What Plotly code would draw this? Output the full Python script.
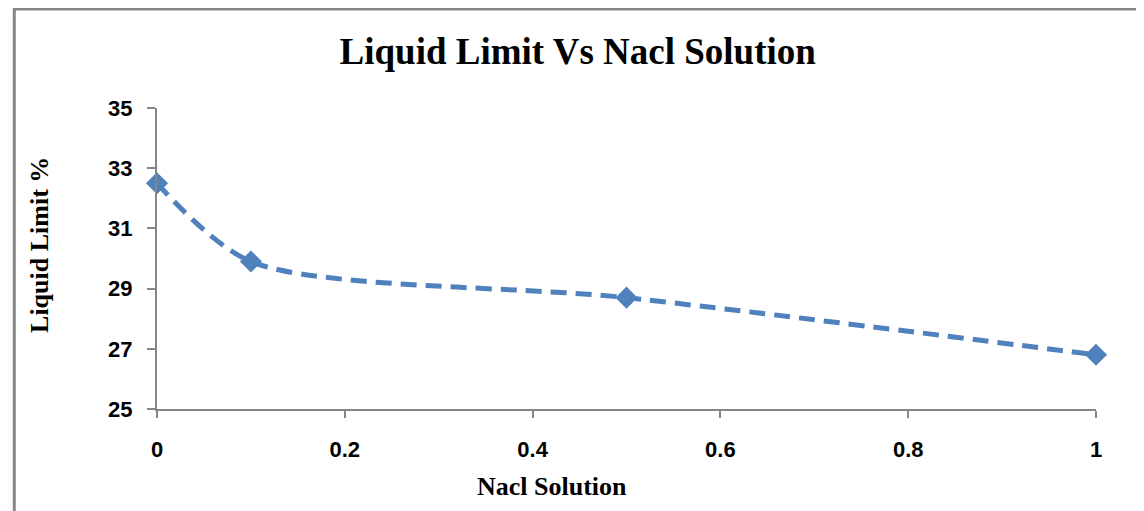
import plotly.graph_objects as go

nacl = [0, 0.1, 0.5, 1]
liquid_limit = [32.5, 29.9, 28.7, 26.8]

x_ticks = [0, 0.2, 0.4, 0.6, 0.8, 1]
y_ticks = [25, 27, 29, 31, 33, 35]

axis_grey = "#868686"
tick_font = dict(family="Liberation Sans Narrow, Arial Narrow, Liberation Sans, Arial",
                 size=22, color="black", weight="bold")
serif = "Liberation Serif, Times New Roman, serif"
title_font = dict(family=serif, size=26, color="black")

fig = go.Figure(go.Scatter(
    x=nacl, y=liquid_limit, mode="lines+markers",
    line=dict(color="#4F81BD", width=5, dash="16px,9px", shape="spline", smoothing=0.8),
    marker=dict(symbol="diamond", size=17, color="#4F81BD"),
    cliponaxis=False,
))

fig.update_layout(
    width=1144, height=511,
    margin=dict(l=149, r=56, t=100, b=110),
    paper_bgcolor="white", plot_bgcolor="white",
    showlegend=False,
    title=dict(text="<b>Liquid Limit Vs Nacl Solution</b>", x=0.498, xanchor="center",
               y=0.915, yanchor="middle", font=dict(family=serif, size=37, color="black")),
    xaxis=dict(
        range=[0, 1], tickvals=x_ticks, ticktext=[f"{v:g}" for v in x_ticks],
        showgrid=False, zeroline=False, showline=True, linecolor=axis_grey, linewidth=2,
        ticks="outside", ticklen=7, tickwidth=2, tickcolor=axis_grey,
        tickfont=tick_font, ticklabelstandoff=13,
    ),
    yaxis=dict(
        range=[25, 35], tickvals=y_ticks,
        showgrid=False, zeroline=False, showline=True, linecolor=axis_grey, linewidth=2,
        ticks="outside", ticklen=8, tickwidth=2, tickcolor=axis_grey,
        tickfont=tick_font, ticklabelstandoff=10,
    ),
)

# axis titles sit off-centre in the original, so place them as annotations
fig.add_annotation(text="<b>Nacl Solution</b>", xref="paper", yref="paper",
                   x=0.4207, y=-0.259, xanchor="center", yanchor="middle",
                   showarrow=False, font=title_font)
fig.add_annotation(text="<b>Liquid Limit %</b>", xref="paper", yref="paper",
                   x=-0.1246, y=0.545, xanchor="center", yanchor="middle",
                   textangle=-90, showarrow=False, font=title_font)

# outer chart frame (right and bottom edges fall outside the picture)
fig.add_shape(type="rect", xref="paper", yref="paper",
              x0=-0.152, x1=1.2, y0=-0.6, y1=1.329,
              line=dict(color=axis_grey, width=3), layer="below")

fig.write_html("out.html")
